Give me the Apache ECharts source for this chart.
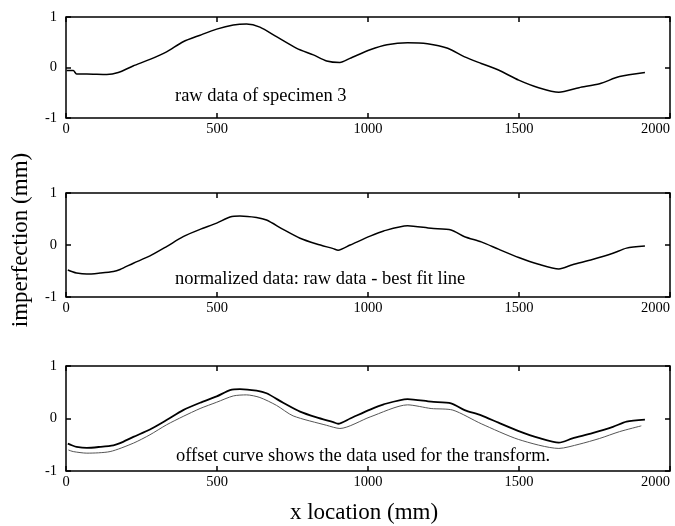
<!DOCTYPE html>
<html>
<head>
<meta charset="utf-8">
<script src="https://cdn.jsdelivr.net/npm/echarts@6/dist/echarts.min.js"></script>
<style>
  html, body { margin: 0; padding: 0; background: #fff; }
  #main { width: 675px; height: 526px; }
</style>
</head>
<body>
<div id="main"></div>
<script>
// x location (mm) / imperfection (mm)
var rawX = [2, 24, 35, 69, 135, 173, 222, 278, 333, 388, 444, 499, 554, 598, 642, 697, 764, 819, 863, 907, 940, 1007, 1063, 1131, 1197, 1264, 1320, 1375, 1432, 1499, 1565, 1632, 1699, 1767, 1833, 1917];
var rawY = [-0.06, -0.06, -0.13, -0.13, -0.14, -0.10, 0.03, 0.16, 0.31, 0.51, 0.64, 0.76, 0.84, 0.86, 0.80, 0.61, 0.38, 0.25, 0.13, 0.10, 0.18, 0.35, 0.45, 0.49, 0.47, 0.38, 0.21, 0.08, -0.05, -0.25, -0.40, -0.49, -0.40, -0.32, -0.18, -0.10];

var normX = [6, 19, 35, 69, 113, 157, 179, 223, 278, 333, 388, 444, 499, 543, 576, 631, 664, 719, 775, 830, 885, 901, 941, 1007, 1052, 1131, 1209, 1275, 1320, 1375, 1432, 1499, 1565, 1632, 1677, 1743, 1811, 1856, 1917];
var normY = [-0.48, -0.51, -0.54, -0.56, -0.54, -0.51, -0.47, -0.35, -0.21, -0.03, 0.16, 0.30, 0.42, 0.54, 0.56, 0.53, 0.48, 0.30, 0.13, 0.02, -0.07, -0.10, 0.00, 0.17, 0.27, 0.37, 0.32, 0.29, 0.16, 0.06, -0.08, -0.24, -0.37, -0.46, -0.38, -0.28, -0.16, -0.06, -0.02];

var offX = [8, 24, 69, 146, 223, 278, 333, 388, 444, 499, 554, 598, 642, 697, 752, 863, 907, 1007, 1131, 1209, 1281, 1375, 1499, 1632, 1699, 1767, 1833, 1905];
var offY = [-0.60, -0.63, -0.66, -0.63, -0.47, -0.31, -0.12, 0.04, 0.19, 0.31, 0.43, 0.45, 0.40, 0.25, 0.05, -0.13, -0.19, 0.03, 0.26, 0.19, 0.16, -0.10, -0.40, -0.57, -0.49, -0.38, -0.25, -0.14];

var xTicks = [0, 500, 1000, 1500, 2000];
var yTicks = [-1, 0, 1];

var labels = ["raw data of specimen 3", "normalized data: raw data - best fit line", "offset curve shows the data used for the transform."];

function pairs(xs, ys) {
  var out = [];
  for (var i = 0; i < xs.length; i++) out.push([xs[i], ys[i]]);
  return out;
}

var serif = "Liberation Serif";
var panels = [
  { top: 17, height: 101 },
  { top: 193, height: 104 },
  { top: 366, height: 105 }
];

function tick() {
  return { show: true, inside: true, length: 5, lineStyle: { color: "#000", width: 1.5 } };
}

var grids = [], xAxes = [], yAxes = [];
for (var p = 0; p < panels.length; p++) {
  grids.push({
    left: 66, width: 604, top: panels[p].top, height: panels[p].height,
    outerBoundsMode: "none", containLabel: false,
    show: true, borderColor: "#000", borderWidth: 1.5, backgroundColor: "transparent"
  });
  // bottom axis with labels, top axis ticks only
  xAxes.push({
    gridIndex: p, type: "value", min: xTicks[0], max: xTicks[xTicks.length - 1], interval: 500,
    axisLine: { show: false, onZero: false }, splitLine: { show: false },
    axisTick: tick(),
    axisLabel: {
      color: "#000", fontFamily: serif, fontSize: 14.5, margin: 4, alignMaxLabel: "right",
      formatter: function (v) { return String(v); }
    }
  });
  xAxes.push({
    gridIndex: p, type: "value", position: "top", min: 0, max: 2000, interval: 500,
    axisLine: { show: false, onZero: false }, splitLine: { show: false },
    axisTick: tick(),
    axisLabel: { show: false }
  });
  yAxes.push({
    gridIndex: p, type: "value", min: yTicks[0], max: yTicks[yTicks.length - 1], interval: 1,
    axisLine: { show: false, onZero: false }, splitLine: { show: false },
    axisTick: tick(),
    axisLabel: { color: "#000", fontFamily: serif, fontSize: 14.5, margin: 9, padding: [0, 0, 9, 0] }
  });
  yAxes.push({
    gridIndex: p, type: "value", position: "right", min: -1, max: 1, interval: 1,
    axisLine: { show: false, onZero: false }, splitLine: { show: false },
    axisTick: tick(),
    axisLabel: { show: false }
  });
}

function line(idx, data, color, width) {
  return {
    type: "line", xAxisIndex: idx * 2, yAxisIndex: idx * 2, data: data,
    showSymbol: false, symbol: "none", smooth: 0.25,
    lineStyle: { color: color, width: width }
  };
}

var chart = echarts.init(document.getElementById("main"));
chart.setOption({
  animation: false,
  backgroundColor: "#fff",
  grid: grids,
  xAxis: xAxes,
  yAxis: yAxes,
  series: [
    line(0, pairs(rawX, rawY), "#000", 1.5),
    line(1, pairs(normX, normY), "#000", 1.5),
    line(2, pairs(normX, normY), "#000", 1.8),
    line(2, pairs(offX, offY), "#555", 1)
  ],
  graphic: [
    { type: "text", left: 175, top: 87, style: { text: labels[0], font: "18.5px " + serif, fill: "#000" } },
    { type: "text", left: 175, top: 270, style: { text: labels[1], font: "18.5px " + serif, fill: "#000" } },
    { type: "text", left: 176, top: 447, style: { text: labels[2], font: "18.5px " + serif, fill: "#000" } },
    { type: "text", x: 364, y: 513, style: { text: "x location (mm)", font: "23px " + serif, fill: "#000", align: "center", verticalAlign: "middle" } },
    { type: "text", x: 21, y: 240, rotation: Math.PI / 2, style: { text: "imperfection (mm)", font: "23px " + serif, fill: "#000", align: "center", verticalAlign: "middle" } }
  ]
});
</script>
</body>
</html>
